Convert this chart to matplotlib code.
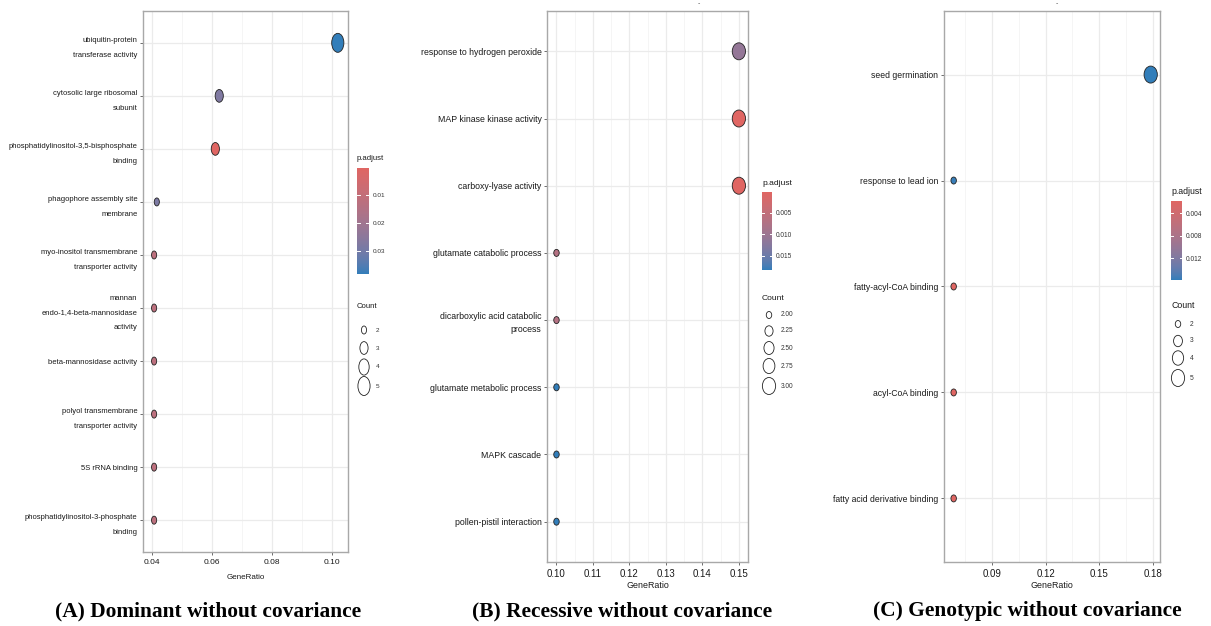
import numpy as np
import matplotlib
matplotlib.use("Agg")
import matplotlib.pyplot as plt
from matplotlib.path import Path
from matplotlib.colors import ListedColormap, Normalize
from matplotlib.ticker import MultipleLocator, FuncFormatter

# ---------------- data ----------------
A_terms = ["ubiquitin-protein\ntransferase activity",
           "cytosolic large ribosomal\nsubunit",
           "phosphatidylinositol-3,5-bisphosphate\nbinding",
           "phagophore assembly site\nmembrane",
           "myo-inositol transmembrane\ntransporter activity",
           "mannan\nendo-1,4-beta-mannosidase\nactivity",
           "beta-mannosidase activity",
           "polyol transmembrane\ntransporter activity",
           "5S rRNA binding",
           "phosphatidylinositol-3-phosphate\nbinding"]
A_ratio = [0.1020, 0.0625, 0.0612, 0.0417, 0.0408, 0.0408, 0.0408, 0.0408, 0.0408, 0.0408]
A_count = [5, 3, 3, 2, 2, 2, 2, 2, 2, 2]
A_padj = [0.0380, 0.0275, 0.0004, 0.0280, 0.0120, 0.0120, 0.0120, 0.0120, 0.0120, 0.0120]
A_cbar_ticks = [0.01, 0.02, 0.03]
A_cbar_labels = ["0.01", "0.02", "0.03"]
A_count_breaks = [2, 3, 4, 5]
A_count_labels = ["2", "3", "4", "5"]

B_terms = ["response to hydrogen peroxide",
           "MAP kinase kinase activity",
           "carboxy-lyase activity",
           "glutamate catabolic process",
           "dicarboxylic acid catabolic\nprocess",
           "glutamate metabolic process",
           "MAPK cascade",
           "pollen-pistil interaction"]
B_ratio = [0.15, 0.15, 0.15, 0.10, 0.10, 0.10, 0.10, 0.10]
B_count = [3, 3, 3, 2, 2, 2, 2, 2]
B_padj = [0.0110, 0.0001, 0.0001, 0.0068, 0.0068, 0.0183, 0.0183, 0.0183]
B_cbar_ticks = [0.005, 0.010, 0.015]
B_cbar_labels = ["0.005", "0.010", "0.015"]
B_count_breaks = [2.00, 2.25, 2.50, 2.75, 3.00]
B_count_labels = ["2.00", "2.25", "2.50", "2.75", "3.00"]

C_terms = ["seed germination",
           "response to lead ion",
           "fatty-acyl-CoA binding",
           "acyl-CoA binding",
           "fatty acid derivative binding"]
C_ratio = [0.1787, 0.0686, 0.0686, 0.0686, 0.0686]
C_count = [5, 2, 2, 2, 2]
C_padj = [0.0159, 0.0157, 0.0018, 0.0018, 0.0018]
C_cbar_ticks = [0.004, 0.008, 0.012]
C_cbar_labels = ["0.004", "0.008", "0.012"]
C_count_breaks = [2, 3, 4, 5]
C_count_labels = ["2", "3", "4", "5"]

captions = ["(A) Dominant without covariance",
            "(B) Recessive without covariance",
            "(C) Genotypic without covariance"]

# ---------------- colours (Lab interpolation like ggplot) ----------------
def _srgb_to_lab(rgb):
    rgb = np.asarray(rgb, float)
    lin = np.where(rgb <= 0.04045, rgb / 12.92, ((rgb + 0.055) / 1.055) ** 2.4)
    M = np.array([[0.4124, 0.3576, 0.1805], [0.2126, 0.7152, 0.0722], [0.0193, 0.1192, 0.9505]])
    xyz = M @ lin / np.array([0.95047, 1.0, 1.08883])
    f = np.where(xyz > 0.008856, np.cbrt(xyz), 7.787 * xyz + 16 / 116)
    return np.array([116 * f[1] - 16, 500 * (f[0] - f[1]), 200 * (f[1] - f[2])])

def _lab_to_srgb(lab):
    L, a, b = lab
    fy = (L + 16) / 116
    fx = fy + a / 500
    fz = fy - b / 200
    f = np.array([fx, fy, fz])
    xyz = np.where(f ** 3 > 0.008856, f ** 3, (f - 16 / 116) / 7.787) * np.array([0.95047, 1.0, 1.08883])
    Minv = np.array([[3.2406, -1.5372, -0.4986], [-0.9689, 1.8758, 0.0415], [0.0557, -0.2040, 1.0570]])
    lin = Minv @ xyz
    rgb = np.where(lin <= 0.0031308, 12.92 * lin, 1.055 * np.clip(lin, 0, None) ** (1 / 2.4) - 0.055)
    return np.clip(rgb, 0, 1)

def _hex(h):
    return np.array([int(h[i:i + 2], 16) / 255 for i in (1, 3, 5)])

lab_lo = _srgb_to_lab(_hex("#e06663"))
lab_hi = _srgb_to_lab(_hex("#327eba"))
cmap = ListedColormap([_lab_to_srgb(lab_lo + (lab_hi - lab_lo) * t) for t in np.linspace(0, 1, 256)])

# ---------------- figure ----------------
W, H = 1211, 626
fig = plt.figure(figsize=(W / 100, H / 100), dpi=100)
plt.rcParams["font.family"] = ["Liberation Sans", "DejaVu Sans"]

def px_axes(l, t, r, b):
    return fig.add_axes([l / W, 1 - b / H, (r - l) / W, (b - t) / H])

def ellipse_marker(ratio):
    c = Path.unit_circle()
    return Path(c.vertices * np.array([ratio, 1.0]), c.codes)

def size_px(count, cmin, cmax, dmin, dmax):
    # area-proportional size scale
    if cmax == cmin:
        return dmax
    t = (count - cmin) / (cmax - cmin)
    return np.sqrt(dmin ** 2 + t * (dmax ** 2 - dmin ** 2))

overlay = fig.add_axes([0, 0, 1, 1], zorder=-1)
overlay.set_xlim(0, W)
overlay.set_ylim(H, 0)
overlay.axis("off")

panels = [
    dict(terms=A_terms, ratio=A_ratio, count=A_count, padj=A_padj,
         box=(143, 11, 348, 552), major=0.02, minor=0.01, xlim=(0.0371, 0.1054),
         lab_fs=5.5, lab_ls=2.55, tick_fs=6.0, title_fs=5.8, xlpad=6.0, ell=0.64,
         cbar=(357, 168, 369, 274), cticks=A_cbar_ticks, clabels=A_cbar_labels,
         cbreaks=A_count_breaks, cblabels=A_count_labels, ctitle_y=307,
         cys=[330, 348, 367, 386], dsize=(8, 19), leg_fs=5.6, cl_fs=4.6),
    dict(terms=B_terms, ratio=B_ratio, count=B_count, padj=B_padj,
         box=(547, 11, 748, 562), major=0.01, minor=0.005, xlim=(0.0974, 0.1525),
         lab_fs=6.3, lab_ls=1.55, tick_fs=7.0, title_fs=6.4, xlpad=1.3, ell=0.78,
         cbar=(762, 192, 772, 270), cticks=B_cbar_ticks, clabels=B_cbar_labels,
         cbreaks=B_count_breaks, cblabels=B_count_labels, ctitle_y=298,
         cys=[315, 331, 348, 366, 386], dsize=(7, 17), leg_fs=6.1, cl_fs=4.7),
    dict(terms=C_terms, ratio=C_ratio, count=C_count, padj=C_padj,
         box=(944, 11, 1160, 562), major=0.03, minor=0.015, xlim=(0.0632, 0.1839),
         lab_fs=6.2, lab_ls=1.55, tick_fs=7.0, title_fs=6.4, xlpad=1.3, ell=0.78,
         cbar=(1171, 201, 1182, 280), cticks=C_cbar_ticks, clabels=C_cbar_labels,
         cbreaks=C_count_breaks, cblabels=C_count_labels, ctitle_y=306,
         cys=[324, 341, 358, 378], dsize=(7, 17), leg_fs=6.3, cl_fs=4.8),
]
cap_x = [208, 622, 1027]

for i, p in enumerate(panels):
    l, t, r, b = p["box"]
    ax = px_axes(l, t, r, b)
    n = len(p["terms"])
    ypos = np.arange(n)[::-1]
    cmin, cmax = min(p["cbreaks"]), max(p["cbreaks"])
    sizes = [size_px(c, cmin, cmax, *p["dsize"]) for c in p["count"]]
    norm = Normalize(min(p["padj"]), max(p["padj"]))
    ax.scatter(p["ratio"], ypos, s=[(s * 0.72) ** 2 for s in sizes], c=p["padj"], cmap=cmap,
               norm=norm, marker=ellipse_marker(p["ell"]), edgecolors="#222222",
               linewidths=0.6, zorder=3)
    ax.set_xlim(*p["xlim"])
    ax.set_ylim(-0.6, n - 1 + 0.6)
    ax.set_yticks(ypos)
    ax.set_yticklabels(p["terms"], fontsize=p["lab_fs"], linespacing=p["lab_ls"],
                       color="#1a1a1a", ha="right", multialignment="right")
    ax.xaxis.set_major_locator(MultipleLocator(p["major"]))
    ax.xaxis.set_minor_locator(MultipleLocator(p["minor"]))
    ax.xaxis.set_major_formatter(FuncFormatter(lambda v, pos: f"{v:.2f}"))
    ax.tick_params(axis="x", which="minor", length=0)
    ax.tick_params(axis="both", which="major", length=2.5, width=0.6, color="#555555",
                   pad=1.5, labelcolor="#1a1a1a")
    ax.tick_params(axis="x", labelsize=p["tick_fs"], pad=2.5)
    ax.set_axisbelow(True)
    ax.grid(which="major", color="#ebebeb", lw=0.9)
    ax.grid(which="minor", axis="x", color="#f2f2f2", lw=0.5)
    for sp in ax.spines.values():
        sp.set_color("#a8a8a8")
        sp.set_linewidth(1.0)
    ax.set_xlabel("GeneRatio", fontsize=p["title_fs"], color="#1a1a1a", labelpad=p["xlpad"])

    # colour bar
    cl, ct, cr, cb = p["cbar"]
    cax = px_axes(cl, ct, cr, cb)
    vmin, vmax = norm.vmin, norm.vmax
    grad = np.linspace(vmin, vmax, 256)[:, None]
    cax.imshow(grad, cmap=cmap, norm=norm, aspect="auto", extent=[0, 1, vmax, vmin])
    cax.set_xlim(0, 1)
    cax.set_ylim(vmax, vmin)
    cax.set_xticks([])
    cax.yaxis.tick_right()
    cax.set_yticks(p["cticks"])
    cax.set_yticklabels(p["clabels"], fontsize=p["cl_fs"], color="#333333")
    cax.tick_params(axis="y", length=0, pad=2.5)
    for sp in cax.spines.values():
        sp.set_visible(False)
    for v in p["cticks"]:
        cax.plot([0, 0.22], [v, v], color="white", lw=0.7)
        cax.plot([0.78, 1], [v, v], color="white", lw=0.7)
    fig.text(cl / W, 1 - (ct - 9) / H, "p.adjust", fontsize=p["leg_fs"], color="#1a1a1a",
             ha="left", va="center")

    # count legend
    fig.text(cl / W, 1 - p["ctitle_y"] / H, "Count", fontsize=p["leg_fs"], color="#1a1a1a",
             ha="left", va="center")
    cx = cl + 7
    for cval, clab, cy in zip(p["cbreaks"], p["cblabels"], p["cys"]):
        spx = size_px(cval, cmin, cmax, *p["dsize"])
        overlay.scatter([cx], [cy], s=(spx * 0.72) ** 2, marker=ellipse_marker(p["ell"]),
                        facecolors="none", edgecolors="#222222", linewidths=0.6)
        overlay.text(cx + 12, cy, clab, fontsize=p["cl_fs"], color="#333333", ha="left", va="center")

    fig.text(cap_x[i] / W, 1 - 611 / H, captions[i], fontsize=15.4, fontweight="bold",
             family=["Liberation Serif", "DejaVu Serif"], ha="center", va="center", color="black")

fig.text(699 / W, 1 - 4 / H, "-", fontsize=5, color="#555555", ha="center", va="center")
fig.text(1057 / W, 1 - 4 / H, "-", fontsize=5, color="#555555", ha="center", va="center")

fig.savefig("out.png", dpi=100)
